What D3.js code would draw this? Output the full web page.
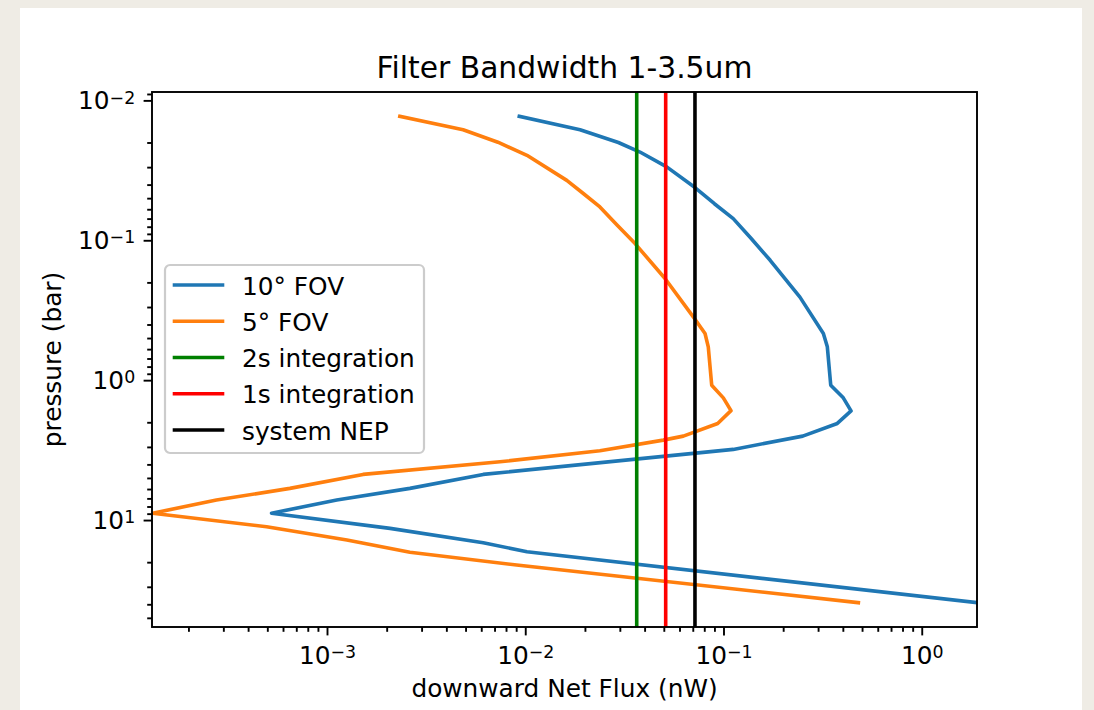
<!DOCTYPE html>
<html>
<head>
<meta charset="utf-8">
<script src="https://cdn.jsdelivr.net/npm/d3@7"></script>
<style>
  html, body { margin: 0; padding: 0; background: #efece5; }
  svg { display: block; font-family: "DejaVu Sans", sans-serif; }
</style>
</head>
<body>
<script>
// values
const fov10Pressure = [0.0130, 0.0162, 0.0200, 0.0234, 0.0299, 0.0420, 0.0548, 0.0700, 0.0967, 0.139, 0.255, 0.464, 0.578, 1.086, 1.338, 1.657, 2.039, 2.512, 3.126, 4.717, 5.937, 7.197, 8.93, 11.47, 14.52, 16.84, 38.96];
const fov10Flux = [0.00933, 0.0189, 0.0295, 0.0379, 0.0517, 0.0718, 0.0900, 0.112, 0.1376, 0.172, 0.243, 0.319, 0.334, 0.3475, 0.402, 0.440, 0.375, 0.251, 0.112, 0.00614, 0.00262, 0.00112, 0.000525, 0.00208, 0.00614, 0.0102, 1.90];

const fov5Pressure = [0.0130, 0.0162, 0.0199, 0.0247, 0.0373, 0.0465, 0.0578, 0.0785, 0.1056, 0.1877, 0.353, 0.464, 0.578, 1.086, 1.338, 1.651, 2.039, 2.512, 2.683, 3.199, 3.833, 4.717, 5.937, 7.197, 8.93, 11.16, 13.89, 17.01, 20.96, 38.96];
const fov5Flux = [0.00233, 0.00486, 0.00728, 0.0102, 0.0162, 0.0197, 0.0238, 0.0292, 0.0358, 0.0507, 0.0704, 0.0807, 0.0838, 0.0872, 0.0998, 0.1091, 0.0935, 0.0627, 0.0497, 0.0238, 0.00746, 0.00152, 0.00065, 0.000277, 0.000132, 0.000496, 0.00126, 0.00262, 0.00905, 0.479];

const thresholdValues = [0.0365, 0.0511, 0.0718]; // 2s integration, 1s integration, system NEP
const seriesLabels = ['10° FOV', '5° FOV', '2s integration', '1s integration', 'system NEP'];
const seriesColors = ['#1f77b4', '#ff7f0e', '#008000', '#ff0000', '#000000'];
const xLimits = [1.31e-4, 1.9];

const Chart = {};

Chart.config = function config() {
  const vm = this;
  vm.margin = { top: 92, left: 152 };
  vm.width = 825;
  vm.height = 535;
  vm.fs = 24.8;
  vm.lw = 3.6;
  vm.scales();
};

Chart.scales = function scales() {
  const vm = this;
  vm.x = d3.scaleLog().domain(xLimits).range([0, vm.width]);
  // matplotlib style 5% margin in log space for pressure
  const ext = d3.extent(fov10Pressure.concat(fov5Pressure)).map(Math.log10);
  const pad = (ext[1] - ext[0]) * 0.05;
  vm.y = d3.scaleLog().domain([10 ** (ext[0] - pad), 10 ** (ext[1] + pad)]).range([0, vm.height]);
};

Chart.chart = function chart() {
  const vm = this;
  const svg = d3.select('body').append('svg').attr('width', 1094).attr('height', 710);
  svg.append('rect').attr('x', 20).attr('y', 8).attr('width', 1062).attr('height', 710).attr('fill', '#fff');
  vm.svg = svg;
  vm.g = svg.append('g').attr('transform', `translate(${vm.margin.left},${vm.margin.top})`);
  vm.g.append('clipPath').attr('id', 'clip').append('rect').attr('width', vm.width).attr('height', vm.height);
};

function isMajor(t) {
  const l = Math.log10(t);
  return Math.abs(l - Math.round(l)) < 1e-9;
}

function powerLabel(sel, t, fs) {
  const e = Math.round(Math.log10(t));
  sel.append('tspan').text('10');
  sel.append('tspan').style('font-size', (fs * 0.7) + 'px').attr('dy', -5.8).text(String(e).replace('-', '\u2212'));
}

Chart.axes = function axes() {
  const vm = this;
  const xt = vm.x.ticks().filter(t => t > xLimits[0] && t < xLimits[1]);
  const yt = vm.y.ticks();

  const xMinor = vm.g.append('g').attr('transform', `translate(0,${vm.height})`)
    .call(d3.axisBottom(vm.x).tickValues(xt.filter(t => !isMajor(t))).tickSize(4.8).tickFormat(''));
  const xMajor = vm.g.append('g').attr('transform', `translate(0,${vm.height})`)
    .call(d3.axisBottom(vm.x).tickValues(xt.filter(isMajor)).tickSize(8.4).tickFormat(''));
  const yMinor = vm.g.append('g')
    .call(d3.axisLeft(vm.y).tickValues(yt.filter(t => !isMajor(t))).tickSize(4.8).tickFormat(''));
  const yMajor = vm.g.append('g')
    .call(d3.axisLeft(vm.y).tickValues(yt.filter(isMajor)).tickSize(8.4).tickFormat(''));

  [xMinor, xMajor, yMinor, yMajor].forEach(a => {
    a.select('.domain').remove();
    a.selectAll('text').remove();
    a.attr('font-family', null).attr('font-size', null);
    a.selectAll('line').attr('stroke', '#000').attr('stroke-width', 1.9);
  });

  xMajor.selectAll('.tick').each(function (d) {
    const t = d3.select(this).append('text').attr('y', 37)
      .attr('fill', '#000').style('font-size', vm.fs + 'px').attr('text-anchor', 'middle');
    powerLabel(t, d, vm.fs);
  });
  yMajor.selectAll('.tick').each(function (d) {
    const t = d3.select(this).append('text').attr('x', -16.8).attr('y', 8.5)
      .attr('fill', '#000').style('font-size', vm.fs + 'px').attr('text-anchor', 'end');
    powerLabel(t, d, vm.fs);
  });
};

Chart.draw = function draw() {
  const vm = this;
  const line = d3.line().x(d => vm.x(d[1])).y(d => vm.y(d[0]));
  const plot = vm.g.append('g').attr('clip-path', 'url(#clip)');

  [[fov10Pressure, fov10Flux], [fov5Pressure, fov5Flux]].forEach((s, i) => {
    plot.append('path').datum(d3.zip(s[0], s[1])).attr('d', line)
      .attr('fill', 'none').attr('stroke', seriesColors[i]).attr('stroke-width', vm.lw)
      .attr('stroke-linejoin', 'round').attr('stroke-linecap', 'square');
  });

  thresholdValues.forEach((v, i) => {
    plot.append('line').attr('x1', vm.x(v)).attr('x2', vm.x(v)).attr('y1', 0).attr('y2', vm.height)
      .attr('stroke', seriesColors[i + 2]).attr('stroke-width', vm.lw);
  });

  // spines
  vm.g.append('rect').attr('width', vm.width).attr('height', vm.height)
    .attr('fill', 'none').attr('stroke', '#000').attr('stroke-width', 1.9);

  vm.axes();

  // titles
  vm.svg.append('text').attr('x', vm.margin.left + vm.width / 2).attr('y', 78)
    .attr('text-anchor', 'middle').style('font-size', (vm.fs * 1.2) + 'px').text('Filter Bandwidth 1-3.5um');
  vm.svg.append('text').attr('x', vm.margin.left + vm.width / 2).attr('y', 697)
    .attr('text-anchor', 'middle').style('font-size', vm.fs + 'px').text('downward Net Flux (nW)');
  vm.svg.append('text').attr('transform', `translate(61,${vm.margin.top + vm.height / 2}) rotate(-90)`)
    .attr('text-anchor', 'middle').style('font-size', vm.fs + 'px').text('pressure (bar)');

  vm.legend();
};

Chart.legend = function legend() {
  const vm = this;
  const lg = vm.svg.append('g').attr('transform', 'translate(165,265)');
  lg.append('rect').attr('width', 259).attr('height', 188).attr('rx', 5)
    .attr('fill', '#fff').attr('fill-opacity', 0.8)
    .attr('stroke', '#cccccc').attr('stroke-width', 2.2);
  seriesLabels.forEach((lab, i) => {
    const yy = 20 + i * 36.25;
    lg.append('line').attr('x1', 9.5).attr('x2', 57.5).attr('y1', yy).attr('y2', yy)
      .attr('stroke', seriesColors[i]).attr('stroke-width', vm.lw).attr('stroke-linecap', 'square');
    lg.append('text').attr('x', 77).attr('y', yy + 9.5).style('font-size', vm.fs + 'px').text(lab);
  });
};

Chart.config();
Chart.chart();
Chart.draw();
</script>
</body>
</html>
